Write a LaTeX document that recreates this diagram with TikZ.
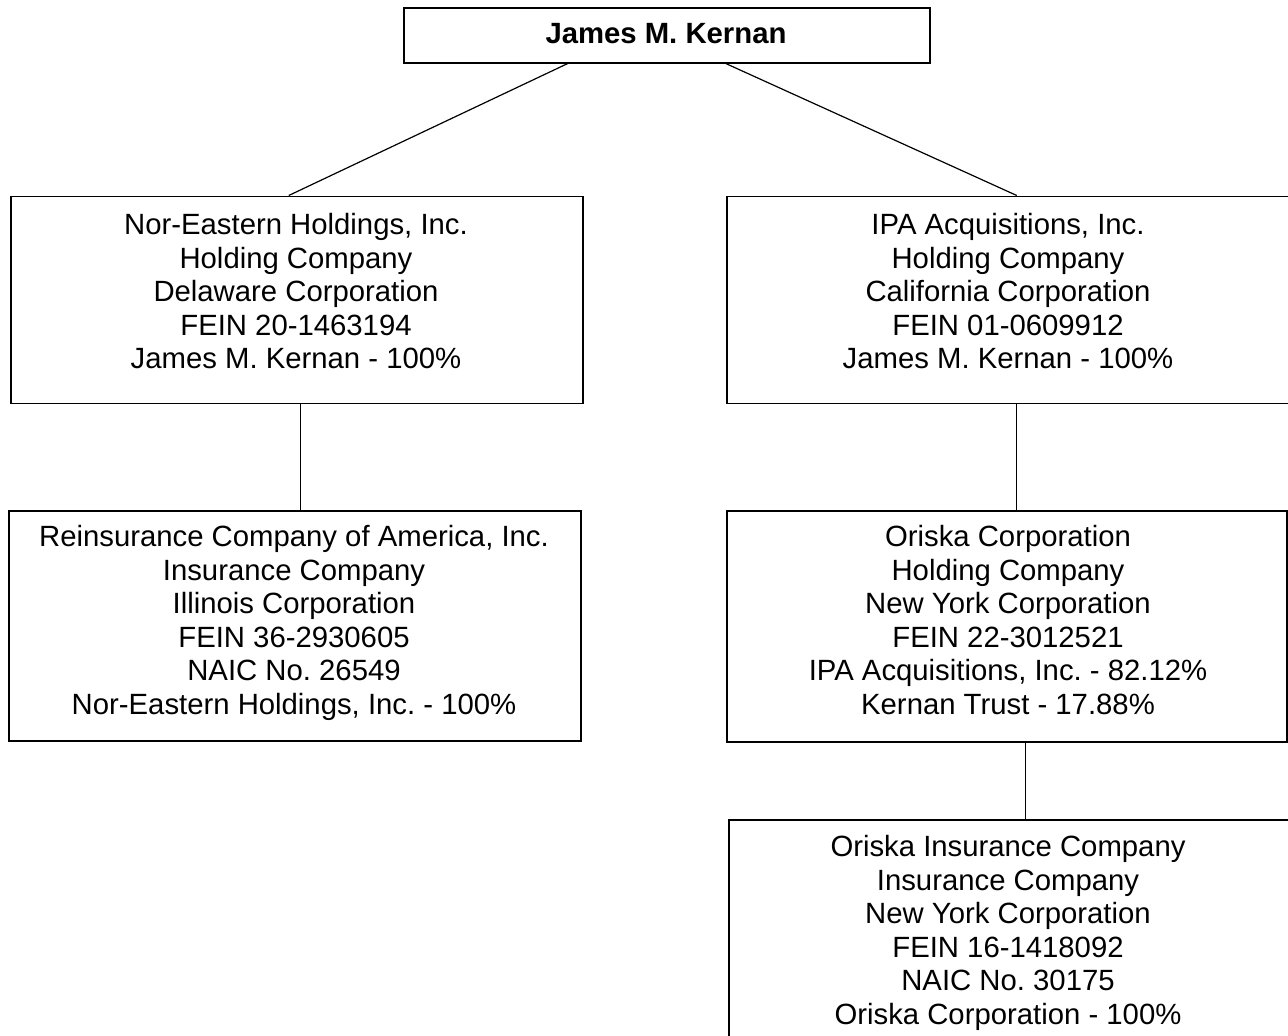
\documentclass[tikz,border=0pt]{standalone}
\usepackage{fontspec}
\setmainfont{Liberation Sans}
\frenchspacing
\begin{document}
\begin{tikzpicture}[x=1pt,y=-1pt,
  box/.style={draw, line width=1.5pt, inner sep=0pt, anchor=north west},
  txt/.style={anchor=north, inner sep=0pt, align=center, font=\fontsize{29.3}{33.6}\selectfont\frenchspacing},
  link/.style={line width=1.2pt}]
\useasboundingbox (0,0) rectangle (1288,1036);
\clip (0,0) rectangle (1288,1036);
% boxes
\node[box, minimum width=526pt, minimum height=55pt] (top) at (403,7) {};
\node[box, minimum width=572pt, minimum height=207pt] (l1) at (10,195.5) {};
\node[box, minimum width=561.5pt, minimum height=207pt] (r1) at (726,195.5) {};
\node[box, minimum width=572pt, minimum height=230pt] (l2) at (8,510) {};
\node[box, minimum width=560pt, minimum height=231pt] (r2) at (726,510) {};
\node[box, minimum width=560pt, minimum height=240pt] (r3) at (728,819) {};
% texts
\node[txt, font=\fontsize{29.3}{33.6}\selectfont\bfseries\frenchspacing] (topt) at (666,23) {James M. Kernan};
\node[txt] (l1t) at (296,213) {Nor-Eastern Holdings, Inc.\\Holding Company\\Delaware Corporation\\FEIN 20-1463194\\James M. Kernan - 100\%};
\node[txt] (r1t) at (1008,213) {IPA Acquisitions, Inc.\\Holding Company\\California Corporation\\FEIN 01-0609912\\James M. Kernan - 100\%};
\node[txt] (l2t) at (294,525) {Reinsurance Company of America, Inc.\\Insurance Company\\Illinois Corporation\\FEIN 36-2930605\\NAIC No. 26549\\Nor-Eastern Holdings, Inc. - 100\%};
\node[txt] (r2t) at (1008,525) {Oriska Corporation\\Holding Company\\New York Corporation\\FEIN 22-3012521\\IPA Acquisitions, Inc. - 82.12\%\\Kernan Trust - 17.88\%};
\node[txt] (r3t) at (1008,835) {Oriska Insurance Company\\Insurance Company\\New York Corporation\\FEIN 16-1418092\\NAIC No. 30175\\Oriska Corporation - 100\%};
% connectors
\draw[link] ([xshift=-99pt]top.south) -- ([xshift=-8pt]l1.north);
\draw[link] ([xshift=59pt]top.south) -- ([xshift=9.25pt]r1.north);
\draw[link] ([xshift=4pt]l1.south) -- ([xshift=6pt]l2.north);
\draw[link] ([xshift=9.25pt]r1.south) -- ([xshift=10pt]r2.north);
\draw[link] ([xshift=19pt]r2.south) -- ([xshift=17pt]r3.north);
\end{tikzpicture}
\end{document}
